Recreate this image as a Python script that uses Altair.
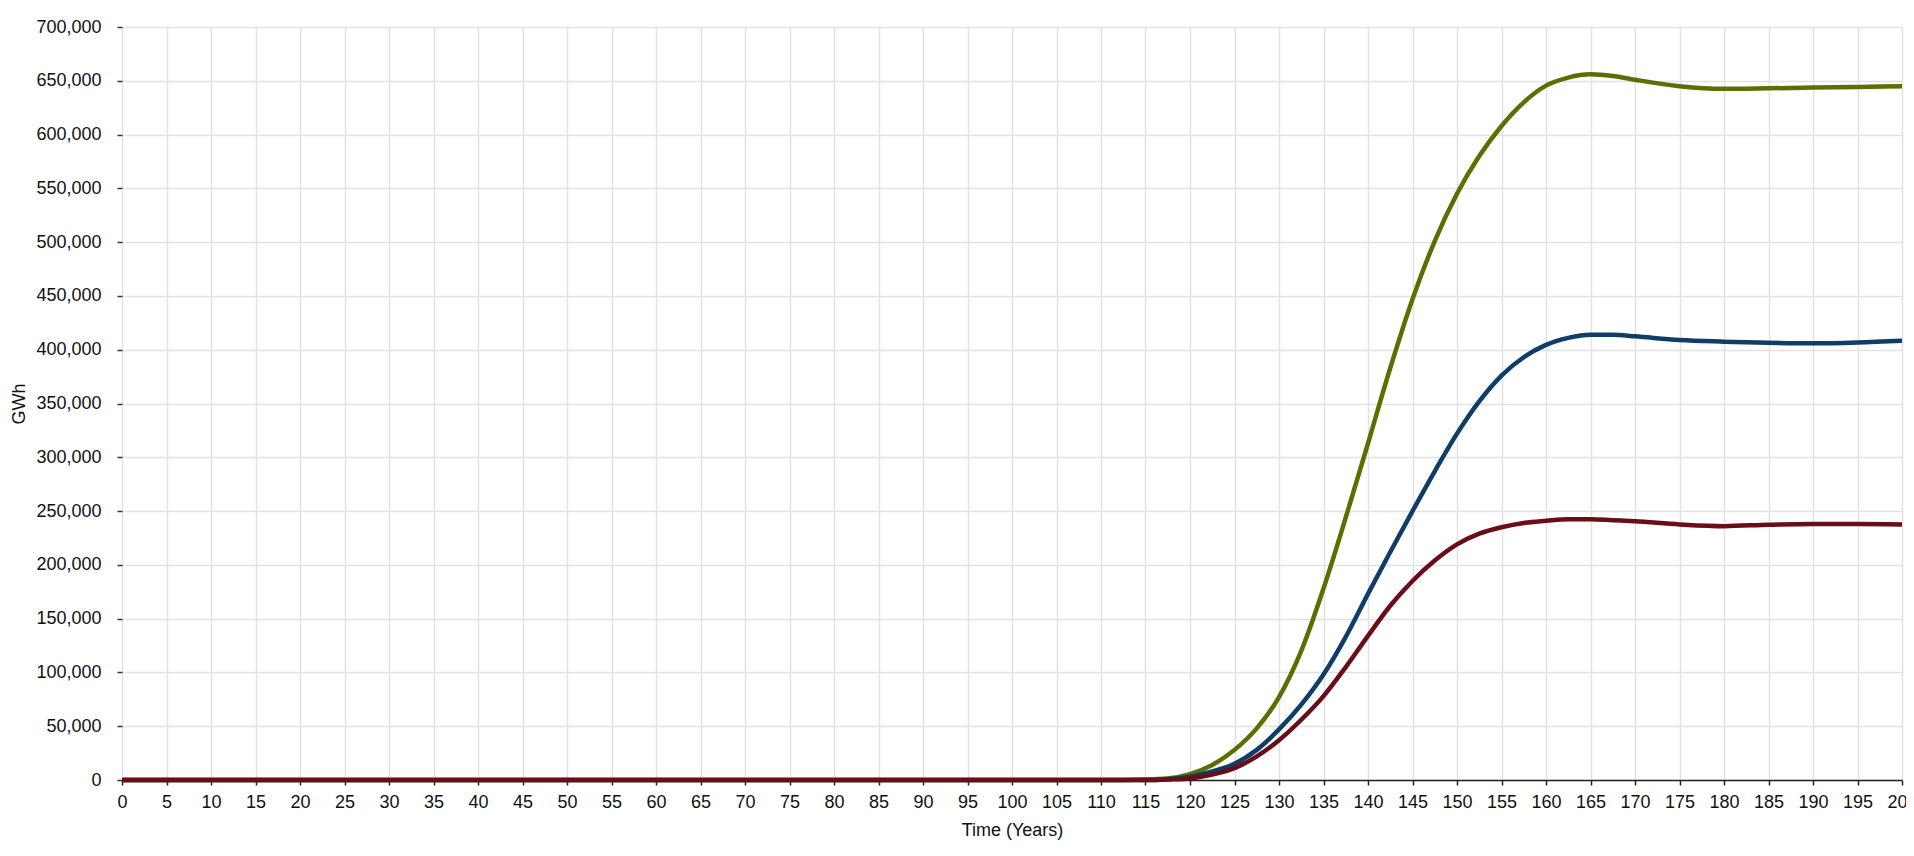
import altair as alt
import pandas as pd

years = [0, 5, 10, 15, 20, 25, 30, 35, 40, 45, 50, 55, 60, 65, 70, 75, 80, 85, 90, 95,
         100, 105, 110, 115, 117.5, 120, 122.5, 125, 127.5, 130, 132.5, 135, 137.5, 140,
         142.5, 145, 147.5, 150, 152.5, 155, 157.5, 160, 162.5, 165, 167.5, 170, 175,
         180, 185, 190, 195, 200]

flat = [0] * 23  # years 0 .. 110
green = flat + [500, 1500, 5500, 14000, 28000, 48000, 77000, 120000, 178000, 244000, 313000,
                383000, 447000, 501000, 545000, 580000, 608000, 630000, 645500, 653000,
                656000, 654500, 651000, 645000, 642500, 643000, 643700, 644300, 645000]
blue = flat + [0, 800, 3000, 8000, 15000, 28000, 47000, 70000, 98000, 133000, 173000,
               212000, 250000, 287000, 322000, 352000, 376000, 393000, 404500, 411000,
               414000, 414000, 412500, 409000, 407500, 406500, 406000, 406800, 408400]
red = flat + [0, 500, 1500, 5000, 11000, 22000, 37000, 56000, 78000, 105000, 134000,
              162000, 185000, 204000, 219000, 229000, 235000, 239000, 241000, 242500,
              242500, 241500, 240500, 237600, 236000, 237300, 238000, 238000, 237600]

series_names = ["Series A", "Series B", "Series C"]
series_colors = ["#5B6E00", "#0E3D67", "#6A0D17"]

rows = []
for name, vals in zip(series_names, [green, blue, red]):
    for t, v in zip(years, vals):
        rows.append({"Time": t, "Value": v, "Series": name})
df = pd.DataFrame(rows)

x_ticks = list(range(0, 201, 5))
y_ticks = list(range(0, 700001, 50000))

chart = alt.Chart(df).mark_line(strokeWidth=4.5, interpolate="monotone").encode(
    x=alt.X("Time:Q",
            scale=alt.Scale(domain=[0, 200], nice=False, zero=False),
            axis=alt.Axis(title="Time (Years)", values=x_ticks, labelOverlap=False,
                          labelFlush=False, format="d", domain=True, domainColor="#222",
                          domainWidth=1.5, tickColor="#222", tickSize=5, tickWidth=1.5,
                          labelPadding=8, titlePadding=10)),
    y=alt.Y("Value:Q",
            scale=alt.Scale(domain=[0, 700000], nice=False),
            axis=alt.Axis(title="GWh", values=y_ticks, format=",d", domain=False,
                          tickColor="#333", tickSize=5, tickWidth=1.5,
                          labelPadding=16, titlePadding=7)),
    color=alt.Color("Series:N", scale=alt.Scale(domain=series_names, range=series_colors),
                    legend=None),
    order=alt.Order("Time:Q"),
).properties(
    width=1780, height=753,
    autosize=alt.AutoSizeParams(type="none"),
    padding={"left": 114, "top": 19, "right": 4, "bottom": 60},
).configure_axis(
    labelFont="Liberation Sans", titleFont="Liberation Sans",
    labelFontSize=18, titleFontSize=18, labelColor="#111", titleColor="#111",
    titleFontWeight="normal", gridColor="#e2e2e2", gridWidth=1.5,
).configure_view(stroke=None)

chart.save("out.html", embed_options={"renderer": "svg", "actions": False})
